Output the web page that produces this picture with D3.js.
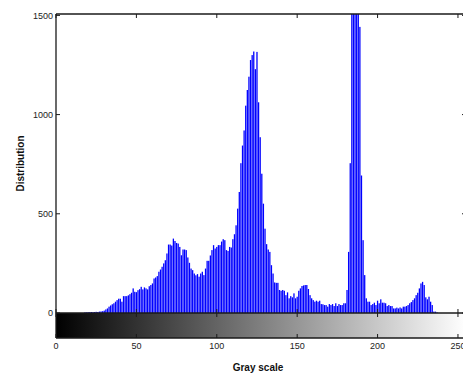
<!DOCTYPE html>
<html>
<head>
<meta charset="utf-8">
<script src="https://cdn.jsdelivr.net/npm/d3@7/dist/d3.min.js"></script>
<style>
  html, body { margin: 0; padding: 0; background: #fff; }
  svg { display: block; font-family: "Liberation Sans", Arial, Helvetica, sans-serif; }
</style>
</head>
<body>
<div id="chart"></div>
<script>
// histogram counts for gray levels 0..255
const counts = [
  0, 0, 0, 0, 0, 0, 0, 0, 0, 0,
  0, 0, 0, 0, 0, 0, 0, 0, 3, 3,
  4, 4, 5, 4, 5, 6, 5, 7, 8, 9,
  12, 18, 23, 32, 38, 44, 49, 57, 65, 72,
  72, 57, 85, 85, 85, 89, 95, 102, 124, 107,
  105, 115, 120, 132, 119, 129, 124, 119, 135, 141,
  149, 174, 179, 186, 208, 219, 233, 250, 266, 300,
  345, 345, 340, 375, 363, 353, 350, 333, 291, 320,
  320, 317, 280, 253, 224, 216, 199, 190, 196, 183,
  199, 208, 191, 224, 263, 263, 290, 317, 342, 325,
  333, 342, 342, 360, 372, 367, 317, 313, 333, 330,
  372, 397, 442, 526, 610, 755, 844, 920, 1045, 1124,
  1191, 1275, 1300, 1318, 1229, 1316, 1062, 886, 702, 551,
  425, 347, 320, 308, 241, 199, 154, 152, 152, 116,
  112, 116, 112, 90, 104, 74, 85, 79, 99, 74,
  82, 112, 124, 136, 139, 141, 141, 121, 90, 74,
  65, 57, 62, 57, 62, 45, 44, 40, 40, 32,
  45, 40, 45, 35, 49, 35, 45, 40, 40, 49,
  49, 116, 308, 755, 1600, 1600, 1600, 1600, 1600, 1442,
  693, 367, 191, 74, 57, 57, 40, 45, 52, 40,
  62, 49, 69, 52, 52, 49, 35, 40, 35, 35,
  23, 23, 27, 23, 28, 23, 32, 32, 35, 40,
  49, 55, 65, 74, 90, 102, 124, 149, 157, 141,
  79, 69, 82, 57, 40, 7, 7, 3, 0, 0,
  0, 0, 0, 0, 0, 0, 0, 0, 0, 0,
  0, 0, 0, 0, 0, 0
];
const xTicks = [0, 50, 100, 150, 200, 250];
const yTicks = [0, 500, 1000, 1500];
const xLabel = "Gray scale";
const yLabel = "Distribution";

const W = 463, H = 373;
const plotLeft = 56, plotRight = 466, plotTop = 14, plotBottom = 313;
const barBottom = 338;

const svg = d3.select("#chart").append("svg")
  .attr("width", W)
  .attr("height", H);

const x = d3.scaleLinear().domain([0, 255]).range([plotLeft, plotRight]);
const y = d3.scaleLinear().domain([0, 1507]).range([plotBottom, plotTop]);

const defs = svg.append("defs");
defs.append("clipPath").attr("id", "plot-clip")
  .append("rect")
  .attr("x", plotLeft).attr("y", plotTop)
  .attr("width", plotRight - plotLeft).attr("height", plotBottom - plotTop);

const grad = defs.append("linearGradient")
  .attr("id", "gray-grad")
  .attr("gradientUnits", "userSpaceOnUse")
  .attr("x1", x(0)).attr("x2", x(255))
  .attr("y1", 0).attr("y2", 0);
grad.append("stop").attr("offset", "0%").attr("stop-color", "#000");
grad.append("stop").attr("offset", "100%").attr("stop-color", "#fff");

// bars
svg.append("g")
  .attr("clip-path", "url(#plot-clip)")
  .selectAll("rect")
  .data(counts)
  .join("rect")
  .attr("x", (d, i) => x(i - 0.4))
  .attr("width", x(0.8) - x(0))
  .attr("y", d => y(d))
  .attr("height", d => y(0) - y(d))
  .attr("fill", "#0000ff");

// gray colour bar under the axis
svg.append("rect")
  .attr("x", x(0)).attr("y", plotBottom)
  .attr("width", x(255) - x(0)).attr("height", barBottom - plotBottom)
  .attr("fill", "url(#gray-grad)");

const axisColor = "#1a1a1a";
const tickLen = 4;

// box lines
const box = svg.append("g").attr("stroke", axisColor).attr("stroke-width", 1.3).attr("fill", "none");
box.append("line").attr("x1", plotLeft).attr("x2", plotLeft).attr("y1", plotTop).attr("y2", barBottom);
box.append("line").attr("x1", plotLeft).attr("x2", plotRight).attr("y1", plotTop).attr("y2", plotTop);
box.append("line").attr("x1", plotLeft).attr("x2", plotRight).attr("y1", plotBottom).attr("y2", plotBottom);
box.append("line").attr("x1", plotLeft).attr("x2", plotRight).attr("y1", barBottom).attr("y2", barBottom);
box.append("line").attr("x1", plotRight).attr("x2", plotRight).attr("y1", plotTop).attr("y2", barBottom);

// inward ticks
const ticks = svg.append("g").attr("stroke", axisColor).attr("stroke-width", 1);
xTicks.forEach(t => {
  const px = x(t);
  ticks.append("line").attr("x1", px).attr("x2", px).attr("y1", plotTop).attr("y2", plotTop + tickLen);
  ticks.append("line").attr("x1", px).attr("x2", px).attr("y1", plotBottom).attr("y2", plotBottom - tickLen);
  ticks.append("line").attr("x1", px).attr("x2", px).attr("y1", plotBottom).attr("y2", plotBottom + tickLen);
  ticks.append("line").attr("x1", px).attr("x2", px).attr("y1", barBottom).attr("y2", barBottom - tickLen);
});
yTicks.forEach(t => {
  const py = y(t);
  ticks.append("line").attr("x1", plotLeft).attr("x2", plotLeft + tickLen).attr("y1", py).attr("y2", py);
  ticks.append("line").attr("x1", plotRight).attr("x2", plotRight - tickLen).attr("y1", py).attr("y2", py);
});

// tick labels
svg.append("g")
  .selectAll("text")
  .data(yTicks)
  .join("text")
  .attr("x", plotLeft - 3)
  .attr("y", d => y(d))
  .attr("dy", "0.35em")
  .attr("text-anchor", "end")
  .attr("font-size", 9)
  .attr("fill", "#222")
  .text(d => d);

svg.append("g")
  .selectAll("text")
  .data(xTicks)
  .join("text")
  .attr("x", d => x(d))
  .attr("y", barBottom + 8)
  .attr("dy", "0.35em")
  .attr("text-anchor", "middle")
  .attr("font-size", 9)
  .attr("fill", "#222")
  .text(d => d);

// axis titles
svg.append("text")
  .attr("x", (plotLeft + plotRight) / 2 - 3)
  .attr("y", 367)
  .attr("dy", "0.35em")
  .attr("text-anchor", "middle")
  .attr("font-size", 10)
  .attr("font-weight", "bold")
  .attr("fill", "#111")
  .text(xLabel);

svg.append("text")
  .attr("transform", `translate(20,${(plotTop + plotBottom) / 2}) rotate(-90)`)
  .attr("dy", "0.35em")
  .attr("text-anchor", "middle")
  .attr("font-size", 10)
  .attr("font-weight", "bold")
  .attr("fill", "#111")
  .text(yLabel);
</script>
</body>
</html>
